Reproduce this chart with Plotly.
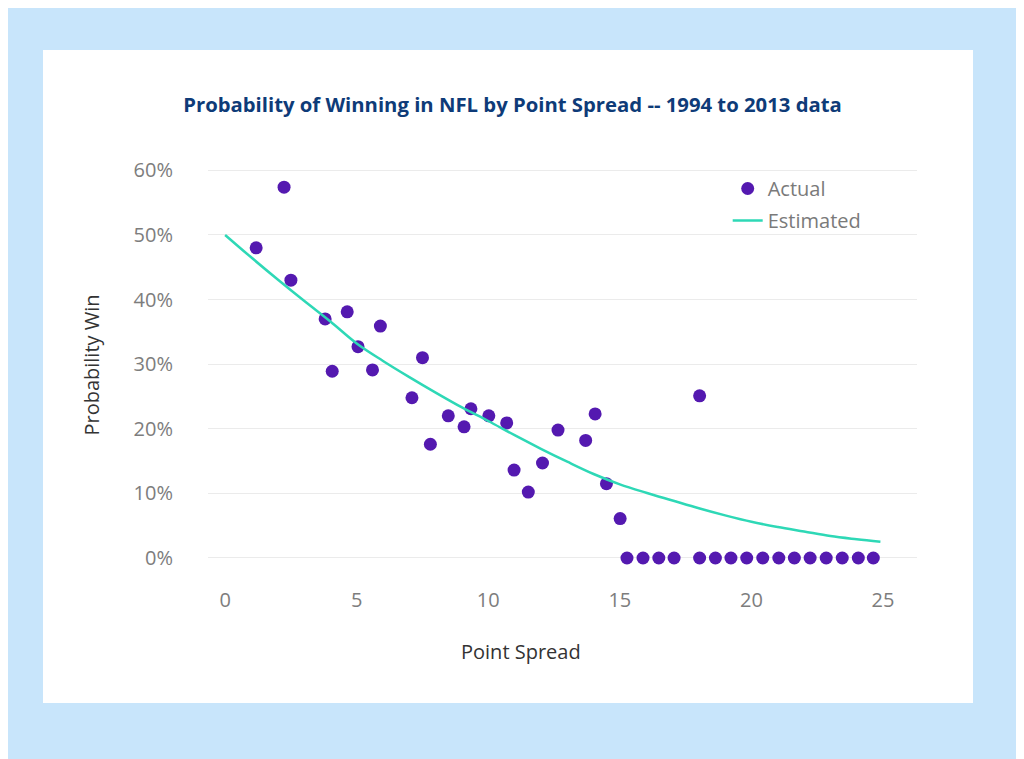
import plotly.graph_objects as go

# Actual data (point spread, win probability)
actual_spread = [1.18, 2.24, 2.50, 3.80, 4.07, 4.64, 5.05, 5.60, 5.90, 7.10, 7.50, 7.80,
                 8.48, 9.08, 9.34, 10.02, 10.70, 10.98, 11.52, 12.06, 12.65, 13.70, 14.06,
                 14.49, 15.01, 15.27, 15.88, 16.48, 17.06, 18.03, 18.03, 18.63, 19.22,
                 19.82, 20.43, 21.04, 21.63, 22.23, 22.84, 23.45, 24.06, 24.63]
actual_prob = [0.480, 0.574, 0.430, 0.370, 0.289, 0.381, 0.327, 0.291, 0.359, 0.248, 0.310, 0.176,
               0.220, 0.203, 0.231, 0.220, 0.209, 0.136, 0.102, 0.147, 0.198, 0.182, 0.223,
               0.115, 0.061, 0.0, 0.0, 0.0, 0.0, 0.251, 0.0, 0.0, 0.0,
               0.0, 0.0, 0.0, 0.0, 0.0, 0.0, 0.0, 0.0, 0.0]

# Estimated curve
est_spread = [0, 1, 2, 3, 4, 5, 6, 7, 8, 9, 10, 11, 12, 13, 14, 15, 16, 17, 18, 19, 20,
              21, 22, 23, 24, 24.9]
est_prob = [0.500, 0.465, 0.431, 0.398, 0.366, 0.332, 0.305, 0.280, 0.256, 0.233, 0.212,
            0.190, 0.169, 0.149, 0.130, 0.114, 0.101, 0.089, 0.077, 0.066, 0.056,
            0.048, 0.041, 0.034, 0.029, 0.025]

x_ticks = [0, 5, 10, 15, 20, 25]
y_ticks = [0, 0.1, 0.2, 0.3, 0.4, 0.5, 0.6]
y_labels = ["0%", "10%", "20%", "30%", "40%", "50%", "60%"]

FONT = "Open Sans"

# plot area in figure pixels (page is offset by the 8px body margin)
L, R, T, B = 200, 909, 152, 562
W, H = R - L, B - T

fig = go.Figure()
fig.add_trace(go.Scatter(
    x=actual_spread, y=actual_prob, mode="markers", name="Actual", legendgroup="a",
    marker=dict(color="#5419b0", size=13, line=dict(width=0)),
))
fig.add_trace(go.Scatter(
    x=est_spread, y=est_prob, mode="lines", name="Estimated", legendgroup="b",
    line=dict(color="#2ed8b6", width=2.5, shape="spline"),
))

# White card background
fig.add_shape(type="rect", xref="paper", yref="paper",
              x0=(35 - L) / W, x1=(965 - L) / W,
              y0=(B - 695) / H, y1=(B - 42) / H,
              fillcolor="white", line=dict(width=0), layer="below")

# X-axis title (positioned like the reference, left of plot centre)
fig.add_annotation(text="Point Spread", xref="paper", yref="paper",
                   x=(513 - L) / W, y=(B - 643) / H, xanchor="center", yanchor="middle",
                   showarrow=False, font=dict(family=FONT, size=20, color="#333333"))

fig.update_layout(
    width=1024, height=759,
    paper_bgcolor="#c8e5fb",
    plot_bgcolor="rgba(0,0,0,0)",
    margin=dict(l=L, r=1024 - R, t=T, b=759 - B),
    font=dict(family=FONT, color="#7a7a7a", size=20),
    title=dict(text="<b>Probability of Winning in NFL by Point Spread -- 1994 to 2013 data</b>",
               x=504.5 / 1024, xref="container", xanchor="center",
               y=1 - 97 / 759, yanchor="middle",
               font=dict(family=FONT, size=20.3, color="#0e3b78")),
    showlegend=True,
    legend=dict(x=0.733, y=0.978, xanchor="left", yanchor="top",
                bgcolor="rgba(0,0,0,0)", font=dict(size=20, color="#7a7a7a"),
                itemwidth=30, tracegroupgap=3, traceorder="grouped"),
    xaxis=dict(range=[-0.65, 26.29], tickvals=x_ticks, showgrid=False, zeroline=False,
               showline=False, ticks="outside", ticklen=12, tickcolor="rgba(0,0,0,0)",
               tickfont=dict(size=20, color="#7d7d7d")),
    yaxis=dict(range=[-0.0186, 0.616], tickvals=y_ticks, ticktext=y_labels,
               showgrid=True, gridcolor="#ebebeb", gridwidth=1, zeroline=False,
               showline=False, ticks="outside", ticklen=30, tickcolor="rgba(0,0,0,0)",
               tickfont=dict(size=20, color="#7d7d7d"),
               title=dict(text="Probability Win", font=dict(size=20, color="#333333"), standoff=28)),
)

fig.write_html("out.html")
